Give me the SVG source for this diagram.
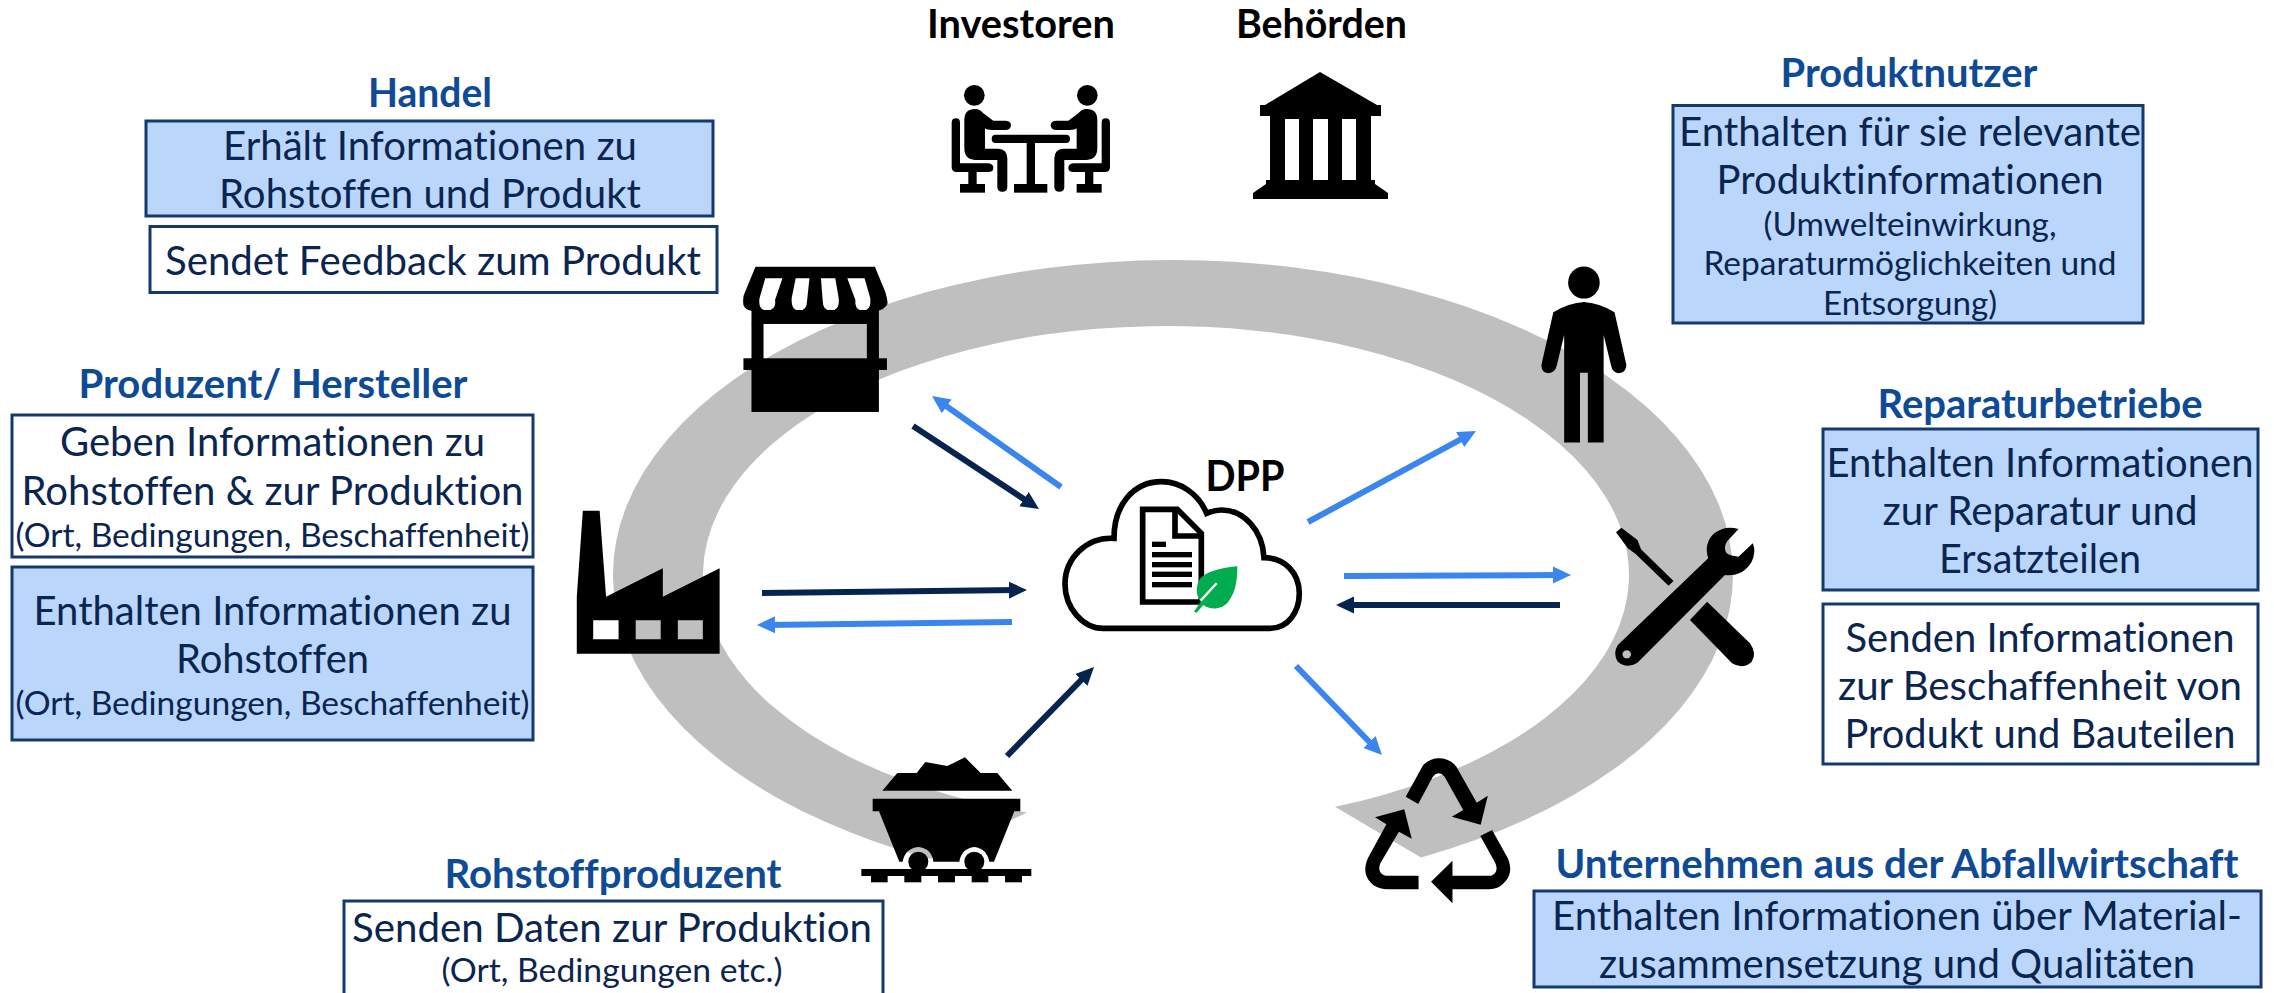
<svg xmlns="http://www.w3.org/2000/svg" width="2274" height="993" viewBox="0 0 2274 993">
<style>
text{font-family:Lato,"Liberation Sans",sans-serif;text-anchor:middle;font-variant-ligatures:none}
.t{font-size:39.500px;font-weight:700;fill:#0e4a96}
.b{font-size:40.200px;fill:#0a2550}
.s{font-size:33.500px;fill:#0a2550}
.k{font-size:40px;font-weight:700;fill:#000}
.f{fill:#bbd6fb;stroke:#14396f;stroke-width:3}
.w{fill:#fff;stroke:#14396f;stroke-width:3}
.blue{stroke:#3b86ee;stroke-width:6;fill:none;marker-end:url(#hb)}
.dark{stroke:#06244e;stroke-width:6;fill:none;marker-end:url(#hd)}
</style>
<defs>
<marker id="hb" markerUnits="userSpaceOnUse" markerWidth="18" markerHeight="18" refX="9" refY="9" orient="auto"><path d="M0,.5L18,9L0,17.500Z" fill="#3b86ee"/></marker>
<marker id="hd" markerUnits="userSpaceOnUse" markerWidth="18" markerHeight="18" refX="9" refY="9" orient="auto"><path d="M0,.5L18,9L0,17.500Z" fill="#06244e"/></marker>
<g id="sitter">
<circle cx="133" cy="106" r="31"/>
<path d="M103,180Q103,147 135,147Q150,147 160,160L190,182H225Q243,182 243,196Q243,210 225,210H185Q170,210 165,205V266H205Q232,268 232,295V380Q232,395 217,395Q202,395 202,380V300H135Q103,298 103,265Z"/>
<path d="M65,188Q65,175 78,175Q90,175 90,188V310H175Q190,312 190,323Q190,336 175,336H80Q65,336 65,322Z"/>
<rect x="115" y="336" width="25" height="36"/><rect x="90" y="372" width="75" height="26"/>
</g>
</defs>
<path id="ring" fill="#bfbfbf" d="M930,858.800A560,315 0 1 1 1421,857.400L1335,806.800A463,249 0 1 0 1027,812.500Z"/>
<g id="connectors">
<line class="blue" x1="1061" y1="487" x2="939.400" y2="401.200"/>
<line class="dark" x1="913" y1="426" x2="1031.500" y2="504"/>
<line class="dark" x1="762" y1="593" x2="1018" y2="590.100"/>
<line class="blue" x1="1012" y1="622" x2="766" y2="624.900"/>
<line class="dark" x1="1007" y1="756" x2="1087.700" y2="673.400"/>
<line class="blue" x1="1308" y1="522" x2="1468.100" y2="435.300"/>
<line class="blue" x1="1344" y1="576" x2="1562" y2="575"/>
<line class="dark" x1="1560" y1="605" x2="1345" y2="605"/>
<line class="blue" x1="1296" y1="666" x2="1375.700" y2="748.500"/>
</g>
<g id="investoren">
<text class="k" x="1021" y="38" textLength="188" lengthAdjust="spacingAndGlyphs">Investoren</text>
<g transform="translate(930,60) scale(.3333)">
<use href="#sitter"/><use href="#sitter" transform="translate(605,0) scale(-1,1)"/>
<rect x="185" y="224" width="235" height="25" rx="12"/><rect x="290" y="249" width="25" height="123"/><rect x="252" y="372" width="100" height="26"/>
</g>
</g>
<g id="behoerden">
<text class="k" x="1321.500" y="38" textLength="171" lengthAdjust="spacingAndGlyphs">Behörden</text>
<path d="M1320,72L1377,105H1381V116H1371V119H1270V116H1260V105H1265Z"/>
<rect x="1270" y="119" width="15" height="61"/><rect x="1299" y="119" width="14" height="61"/><rect x="1328" y="119" width="14" height="61"/><rect x="1356" y="119" width="15" height="61"/>
<path d="M1266,180H1375V184L1388,193V199H1253V193L1266,184Z"/>
</g>
<g id="handel">
<text class="t" x="430" y="107" textLength="124" lengthAdjust="spacingAndGlyphs">Handel</text>
<rect class="f" x="146" y="121" width="567" height="95"/>
<text class="b" x="430" y="160" textLength="414" lengthAdjust="spacingAndGlyphs">Erhält Informationen zu</text>
<text class="b" x="430" y="208" textLength="422" lengthAdjust="spacingAndGlyphs">Rohstoffen und Produkt</text>
<rect class="w" x="150" y="226.500" width="567" height="66"/>
<text class="b" x="433" y="275" textLength="536" lengthAdjust="spacingAndGlyphs">Sendet Feedback zum Produkt</text>
<g transform="translate(550,0) scale(.574,.3333)">
<path d="M358,800H566L584,875Q590,910 587,915Q580,930 572,932H351Q340,930 337,915Q335,890 340,875Z"/>
<path fill="#fff" d="M375,835H405L392,900Q395,930 378,932Q362,930 365,895Z"/>
<path fill="#fff" d="M428,835H452L448,900Q448,932 434,932Q420,932 421,895Z"/>
<path fill="#fff" d="M472,835H497L503,895Q505,932 489,932Q475,932 475,900Z"/>
<path fill="#fff" d="M518,835H548L558,895Q560,932 545,932Q530,930 532,900Z"/>
<rect x="351" y="930" width="222" height="42"/><rect x="351" y="970" width="21" height="110"/><rect x="552" y="970" width="21" height="110"/>
<rect x="337" y="1075" width="250" height="35"/><rect x="351" y="1110" width="222" height="126"/>
</g>
</g>
<g id="produzent">
<text class="t" x="273" y="398" textLength="389" lengthAdjust="spacingAndGlyphs">Produzent/ Hersteller</text>
<rect class="w" x="12" y="415" width="521" height="142"/>
<text class="b" x="272.500" y="456" textLength="425" lengthAdjust="spacingAndGlyphs">Geben Informationen zu</text>
<text class="b" x="272.500" y="505" textLength="502" lengthAdjust="spacingAndGlyphs">Rohstoffen &amp; zur Produktion</text>
<text class="s" x="272.500" y="547" textLength="514" lengthAdjust="spacingAndGlyphs">(Ort, Bedingungen, Beschaffenheit)</text>
<rect class="f" x="12" y="567" width="521" height="173"/>
<text class="b" x="272.500" y="625" textLength="478" lengthAdjust="spacingAndGlyphs">Enthalten Informationen zu</text>
<text class="b" x="272.500" y="673" textLength="193" lengthAdjust="spacingAndGlyphs">Rohstoffen</text>
<text class="s" x="272.500" y="715" textLength="514" lengthAdjust="spacingAndGlyphs">(Ort, Bedingungen, Beschaffenheit)</text>
<path transform="translate(540,480) scale(.3571,.3333)" fill-rule="evenodd" d="M120,92H167L185,350L344,265V350L503,265V521H103V350ZM149,421V478H220V421ZM268,421V478H338V421ZM386,421V478H456V421Z"/>
</g>
<g id="rohstoff">
<text class="t" x="613" y="888" textLength="337" lengthAdjust="spacingAndGlyphs">Rohstoffproduzent</text>
<rect class="w" x="344" y="901" width="539" height="94"/>
<text class="b" x="612" y="942" textLength="520" lengthAdjust="spacingAndGlyphs">Senden Daten zur Produktion</text>
<text class="s" x="612" y="982" textLength="341" lengthAdjust="spacingAndGlyphs">(Ort, Bedingungen etc.)</text>
<g transform="translate(820,720) scale(.3333)">
<path d="M187,212L232,159H290L316,126L382,138L435,112L482,159H532L577,212Z"/>
<path d="M158,236H601V274H583L522,425H508Q500,385 463,381Q425,385 418,425H340Q335,385 295,381Q255,385 248,425H238L177,274H158Z"/>
<circle cx="295" cy="425" r="30"/><circle cx="463" cy="425" r="30"/>
<rect x="124" y="447" width="510" height="21"/>
<rect x="153" y="468" width="50" height="19"/><rect x="253" y="468" width="51" height="19"/><rect x="354" y="468" width="51" height="19"/><rect x="455" y="468" width="50" height="19"/><rect x="555" y="468" width="51" height="19"/>
</g>
</g>
<g id="nutzer">
<text class="t" x="1909" y="87" textLength="257" lengthAdjust="spacingAndGlyphs">Produktnutzer</text>
<rect class="f" x="1673" y="105.500" width="470" height="217.500"/>
<text class="b" x="1910" y="146" textLength="462" lengthAdjust="spacingAndGlyphs">Enthalten für sie relevante</text>
<text class="b" x="1910" y="194" textLength="387" lengthAdjust="spacingAndGlyphs">Produktinformationen</text>
<text class="s" x="1910" y="236" textLength="293" lengthAdjust="spacingAndGlyphs">(Umwelteinwirkung,</text>
<text class="s" x="1910" y="275" textLength="413" lengthAdjust="spacingAndGlyphs">Reparaturmöglichkeiten und</text>
<text class="s" x="1910" y="315" textLength="174" lengthAdjust="spacingAndGlyphs">Entsorgung)</text>
<g transform="translate(1500,40) scale(.4936,.4719)">
<ellipse cx="170" cy="514" rx="32" ry="34"/>
<path d="M170,555Q205,558 232,577L256,688Q256,705 240,706Q228,705 225,690L210,625V853H178V705H162V853H130V625L115,690Q112,705 98,706Q83,705 84,688L108,577Q135,558 170,555Z"/>
</g>
</g>
<g id="reparatur">
<text class="t" x="2040" y="417.500" textLength="325" lengthAdjust="spacingAndGlyphs">Reparaturbetriebe</text>
<rect class="f" x="1823" y="429" width="435" height="161"/>
<text class="b" x="2040" y="477" textLength="427" lengthAdjust="spacingAndGlyphs">Enthalten Informationen</text>
<text class="b" x="2040" y="525" textLength="315" lengthAdjust="spacingAndGlyphs">zur Reparatur und</text>
<text class="b" x="2040" y="573" textLength="202" lengthAdjust="spacingAndGlyphs">Ersatzteilen</text>
<rect class="w" x="1823" y="604" width="435" height="160"/>
<text class="b" x="2040" y="652" textLength="389" lengthAdjust="spacingAndGlyphs">Senden Informationen</text>
<text class="b" x="2040" y="700" textLength="404" lengthAdjust="spacingAndGlyphs">zur Beschaffenheit von</text>
<text class="b" x="2040" y="748" textLength="391" lengthAdjust="spacingAndGlyphs">Produkt und Bauteilen</text>
<g transform="translate(1250,480) scale(.3571,.3333)">
<path d="M1040,143L1085,180L1095,208L1186,303L1172,317L1080,222L1058,205L1025,157Z"/>
<path d="M1280,365L1400,490Q1420,520 1405,545Q1380,570 1350,550L1232,420Z"/>
<path fill-rule="evenodd" d="M1283,235L1030,495Q1015,520 1030,545Q1055,568 1085,548L1330,285Q1380,290 1405,245Q1418,215 1408,190L1368,230Q1345,228 1335,220Q1325,205 1335,185L1368,147Q1330,135 1300,160Q1270,190 1283,235ZM1043,523a12,12 0 1 0 24,0a12,12 0 1 0 -24,0Z"/>
</g>
</g>
<g id="abfall">
<text class="t" x="1897" y="878" textLength="683" lengthAdjust="spacingAndGlyphs">Unternehmen aus der Abfallwirtschaft</text>
<rect class="f" x="1534" y="891" width="727" height="96"/>
<text class="b" x="1897" y="930" textLength="690" lengthAdjust="spacingAndGlyphs">Enthalten Informationen über Material-</text>
<text class="b" x="1897" y="978" textLength="596" lengthAdjust="spacingAndGlyphs">zusammensetzung und Qualitäten</text>
<g transform="translate(1250,480) scale(.3571,.3333)">
<path d="M436,950L485,855Q505,835 528,835Q560,835 578,860L635,968L666,947L646,1034L565,1010L597,990L545,890Q528,870 512,890L471,972Z"/>
<path d="M432,988L350,1012L382,1033L330,1135Q310,1185 345,1215Q365,1228 385,1228H472V1187H380Q355,1180 365,1150L417,1055L453,1076Z"/>
<path d="M507,1205L567,1142V1187H675Q700,1175 685,1145L645,1068L678,1050L722,1135Q740,1180 710,1210Q695,1228 670,1228H567V1270Z"/>
</g>
</g>
<g id="dpp">
<text class="k" x="1245" y="491" style="font-size:42px" textLength="79" lengthAdjust="spacingAndGlyphs">DPP</text>
<g transform="translate(1040,430) scale(.3333)">
<path fill="#fff" stroke="#000" stroke-width="17" d="M190,595H690C745,595 778,545 778,490C778,430 735,383 672,383C668,300 610,240 545,240C530,240 515,244 500,250C475,190 420,155 365,155C280,155 222,225 222,325C140,320 75,385 75,462C75,535 130,595 190,595Z"/>
<path fill="#fff" stroke="#000" stroke-width="17" d="M308,238H412L484,310V516H308Z"/>
<path fill="none" stroke="#000" stroke-width="17" d="M405,238V318H484"/>
<rect x="336" y="335" width="42" height="16"/><rect x="336" y="366" width="120" height="16"/><rect x="336" y="396" width="120" height="16"/><rect x="336" y="425" width="120" height="16"/><rect x="336" y="456" width="120" height="16"/>
<path fill="#00ac4e" d="M592,409C592,409 500,415 478,450C465,475 470,500 482,515L462,545L470,548L490,525C510,540 545,540 565,515C590,485 592,440 592,409Z"/>
<path fill="none" stroke="#fff" stroke-width="7" d="M482,512L530,460"/>
</g>
</g>
</svg>
